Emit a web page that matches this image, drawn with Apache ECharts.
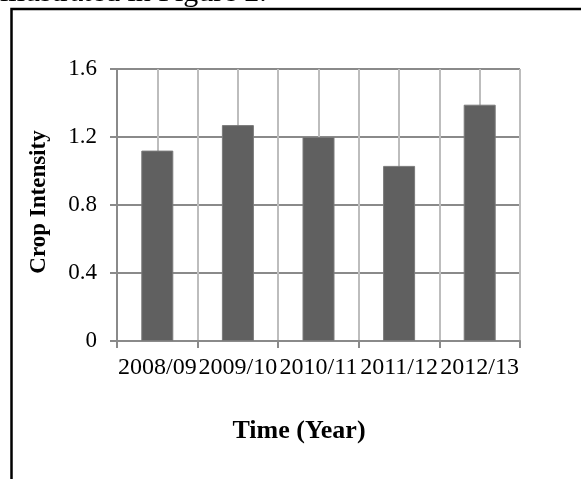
<!DOCTYPE html>
<html>
<head>
<meta charset="utf-8">
<script src="https://cdn.jsdelivr.net/npm/echarts@6/dist/echarts.min.js"></script>
<style>html,body{margin:0;padding:0;background:#fff;}#c{width:581px;height:479px;}</style>
</head>
<body>
<div id="c"></div>
<script>
var categories = ['2008/09', '2009/10', '2010/11', '2011/12', '2012/13'];
var cropIntensity = [1.12, 1.27, 1.20, 1.03, 1.39];
var yTicks = [0, 0.4, 0.8, 1.2, 1.6];

var FONT = '"Liberation Serif", "Times New Roman", serif';
var chart = echarts.init(document.getElementById('c'), null, {renderer: 'canvas'});
chart.setOption({
  animation: false,
  backgroundColor: '#fff',
  grid: {left: 117, right: 61, top: 69, bottom: 138, containLabel: false},
  xAxis: [{
    type: 'category',
    data: categories,
    boundaryGap: true,
    axisLine: {show: true, lineStyle: {color: '#8a8a8a', width: 2}},
    axisTick: {show: true, length: 7, inside: false, lineStyle: {color: '#8a8a8a', width: 2}},
    axisLabel: {color: '#000', fontFamily: FONT, fontSize: 24, margin: 15, interval: 0},
    splitLine: {show: false}
  }, {
    type: 'value',
    min: 0, max: categories.length, interval: 0.5,
    position: 'bottom',
    axisLine: {show: false}, axisTick: {show: false}, axisLabel: {show: false},
    splitLine: {show: true, lineStyle: {color: '#bdbdbd', width: 2}}
  }],
  yAxis: {
    type: 'value',
    min: yTicks[0], max: yTicks[yTicks.length - 1], interval: 0.4,
    axisLine: {show: true, lineStyle: {color: '#8a8a8a', width: 2}},
    axisTick: {show: true, length: 7, lineStyle: {color: '#8a8a8a', width: 2}},
    axisLabel: {color: '#000', fontFamily: FONT, fontSize: 23, margin: 20,
      formatter: function (v) { return v === 0 ? '0' : v.toFixed(1); }},
    splitLine: {show: true, lineStyle: {color: '#8a8a8a', width: 2}}
  },
  series: [{
    type: 'bar',
    xAxisIndex: 0,
    data: cropIntensity,
    barWidth: 32,
    itemStyle: {color: '#606060', borderColor: '#7a7a7a', borderWidth: 1},
    z: 3
  }],
  graphic: [
    {type: 'polyline', shape: {points: [[11.5, 479], [11.5, 9], [581, 9]]}, style: {stroke: '#000', lineWidth: 2.5, fill: null}},
    {type: 'text', x: 0, y: 8.5, style: {text: 'illustrated in Figure 2.', font: '30px ' + FONT, fill: '#000', verticalAlign: 'bottom', align: 'left'}},
    {type: 'text', x: 39, y: 202, rotation: Math.PI / 2, style: {text: 'Crop Intensity', font: 'bold 23px ' + FONT, fill: '#000', align: 'center', verticalAlign: 'middle'}},
    {type: 'text', x: 299, y: 431, style: {text: 'Time (Year)', font: 'bold 26px ' + FONT, fill: '#000', align: 'center', verticalAlign: 'middle'}}
  ]
});
</script>
</body>
</html>
